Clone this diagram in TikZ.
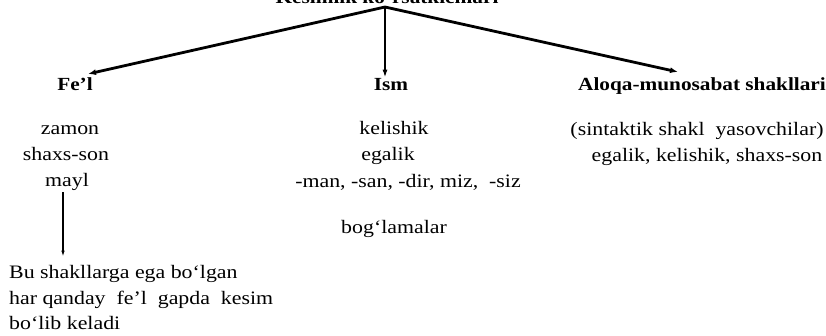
\documentclass[tikz,border=0pt]{standalone}
\usepackage{fontspec}
\setmainfont{Liberation Serif}[FakeStretch=1.15]
\usetikzlibrary{arrows.meta,calc}
\begin{document}
\begin{tikzpicture}[x=1pt,y=-1pt,
  txt/.style={font=\fontsize{19}{25}\selectfont, inner sep=1pt, anchor=base},
  head/.style={font=\fontsize{18.5}{25}\selectfont\bfseries, inner sep=1pt, anchor=base},
  conn/.style={line width=2.8pt, -{Latex[length=8pt,width=6pt]}},
  vconn/.style={line width=2.3pt, -{Latex[length=8pt,width=5pt]}},
  thinconn/.style={line width=1.1pt, -{Latex[length=6pt,width=3.5pt]}}]
\useasboundingbox (0,0) rectangle (826,336);
\begin{scope}
  \clip (0,0) rectangle (826,336);
  \node[head] (title) at (387,3.5) {Kesimlik ko‘rsatkichlari};
\end{scope}
\coordinate (apex) at (385,7);
% headings
\node[head] (fel) at (75,91) {Fe’l};
\node[head] (ism) at (391,91) {Ism};
\node[head] (aloqa) at (702,91) {Aloqa-munosabat shakllari};
% Fe'l column
\node[txt] (zamon) at (70,135) {zamon};
\node[txt] (shaxs) at (66,161) {shaxs-son};
\node[txt] (mayl) at (67,187) {mayl};
% Ism column
\node[txt] (kel) at (394,135) {kelishik};
\node[txt] (ega) at (388,161) {egalik};
\node[txt] (man) at (408,188) {-man, -san, -dir, miz,\ \ -siz};
\node[txt] (bog) at (394,234) {bog‘lamalar};
% Aloqa column
\node[txt] (sin) at (697,136) {(sintaktik shakl\ \ yasovchilar)};
\node[txt] (egk) at (707,162) {egalik, kelishik, shaxs-son};
% bottom text
\node[txt, anchor=base west] (bu1) at (8,279) {Bu shakllarga ega bo‘lgan};
\node[txt, anchor=base west] (bu2) at (8,304) {har qanday\ \ fe’l\ \ gapda\ \ kesim};
\node[txt, anchor=base west] (bu3) at (8,329) {bo‘lib keladi};
% connectors
\draw[conn] (apex) -- ([xshift=13pt,yshift=3pt]fel.north);
\draw[vconn] (apex) -- (apex |- ism.north);
\draw[conn] (apex) -- ([xshift=-24pt,yshift=5pt]aloqa.north);
\draw[thinconn] ($(mayl.south)+(-4,0)$) -- ($(mayl.south |- bu1.north)+(-4,-8)$);
\end{tikzpicture}
\end{document}
